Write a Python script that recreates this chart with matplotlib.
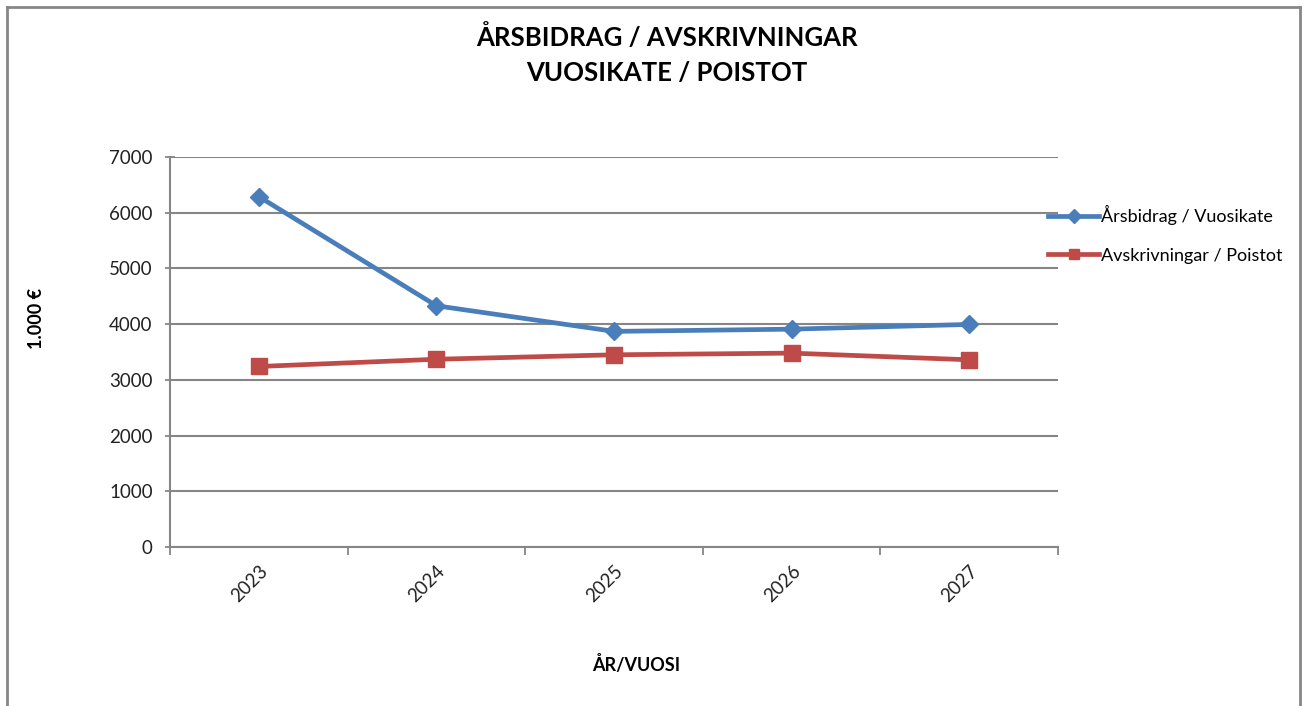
import matplotlib
matplotlib.use("Agg")
import matplotlib.pyplot as plt
from matplotlib.lines import Line2D

years = ["2023", "2024", "2025", "2026", "2027"]
arsbidrag = [6290, 4330, 3870, 3910, 3995]
avskrivningar = [3240, 3370, 3450, 3480, 3360]
yticks = [0, 1000, 2000, 3000, 4000, 5000, 6000, 7000]

W, H = 1306, 706
fig = plt.figure(figsize=(W / 100, H / 100), dpi=100)
plt.rcParams['font.family'] = ['Lato', 'DejaVu Sans']

ax = fig.add_axes([170 / W, 1 - 547 / H, (1058 - 170) / W, (547 - 157) / H])

blue = "#4A7EBB"
red = "#BE4B48"
grid = "#868686"

x = list(range(len(years)))
ax.plot(x, arsbidrag, color=blue, lw=3.4, marker="D", ms=9, label="Årsbidrag / Vuosikate")
ax.plot(x, avskrivningar, color=red, lw=3.4, marker="s", ms=11, label="Avskrivningar / Poistot")

ax.set_xlim(-0.5, len(years) - 0.5)
ax.set_ylim(0, 7000)
ax.set_yticks(yticks)
ax.set_yticklabels([str(v) for v in yticks], fontsize=13.5, color="#222222")
ax.set_xticks(x)
ax.set_xticklabels(years, rotation=45, fontsize=13.5, color="#222222", ha="right", va="top",
                   rotation_mode="anchor")
ax.tick_params(axis="x", length=0, pad=11)
ax.set_xticks([i - 0.5 for i in range(len(years) + 1)], minor=True)
ax.tick_params(axis="x", which="minor", length=6, color=grid, width=1.3)
ax.tick_params(axis="y", length=7, color=grid, width=1.3, direction="inout", pad=9)

ax.grid(axis="y", color=grid, lw=1.5)
ax.set_axisbelow(True)
for s in ["top", "right"]:
    ax.spines[s].set_visible(False)
for s in ["left", "bottom"]:
    ax.spines[s].set_color(grid)
    ax.spines[s].set_linewidth(1.5)

fig.text(667 / W, 1 - 37 / H, "ÅRSBIDRAG / AVSKRIVNINGAR", ha="center", va="center",
         fontsize=18.5, fontweight="bold")
fig.text(667 / W, 1 - 73 / H, "VUOSIKATE / POISTOT", ha="center", va="center",
         fontsize=18.5, fontweight="bold")
fig.text(37 / W, 1 - 318 / H, "1.000 €", ha="center", va="center", rotation=90,
         fontsize=13, fontweight="bold")
fig.text(636 / W, 1 - 665 / H, "ÅR/VUOSI", ha="center", va="center",
         fontsize=13, fontweight="bold")

leg = fig.legend(loc="upper left", bbox_to_anchor=(1041 / W, 1 - 198 / H), frameon=False,
                 fontsize=13, handlelength=2.8, handletextpad=0.1, labelspacing=1.25,
                 borderaxespad=0)
for h in leg.legend_handles:
    h.set_markersize(7)

# outer border (left, top, right)
for xs, ys in [([7, 7], [H + 5, 7]), ([7, 1300], [7, 7]), ([1300, 1300], [7, H + 5])]:
    fig.add_artist(Line2D([v / W for v in xs], [1 - v / H for v in ys],
                          color=grid, lw=2, transform=fig.transFigure))

fig.savefig("out.png", dpi=100)
